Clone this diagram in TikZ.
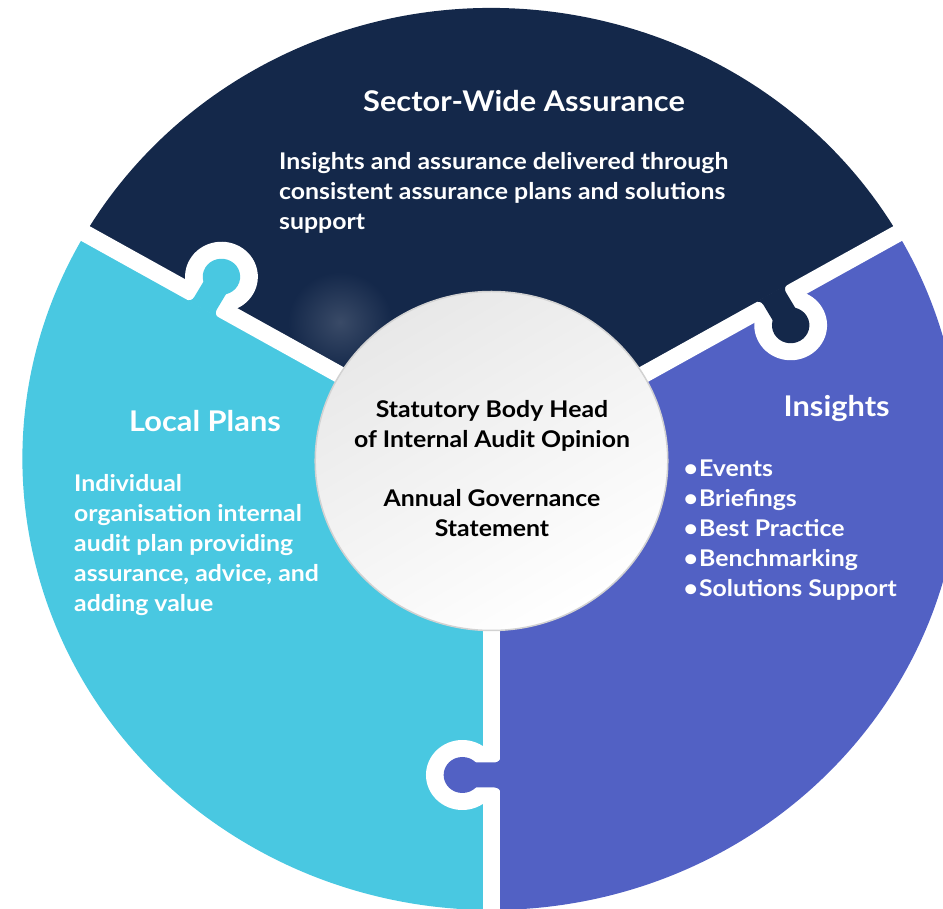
\documentclass[tikz,border=0pt]{standalone}
\usepackage{fontspec}
\setmainfont{Lato}[FakeStretch=1.08]
\usepackage{tikz}
\usetikzlibrary{calc}
\usepackage{xcolor}

\definecolor{navy}{HTML}{14284A}
\definecolor{lightblue}{HTML}{49C8E1}
\definecolor{indigo}{HTML}{5261C4}
\definecolor{hubgrey}{HTML}{E8E8E8}
\definecolor{hubedge}{HTML}{D2D2D2}

\tikzset{
  heading/.style={text=white, inner sep=0pt, font=\bfseries\fontsize{28.5}{34}\selectfont},
  body/.style={text=white, inner sep=0pt, align=left, font=\bfseries\fontsize{23}{30}\selectfont},
  hubtext/.style={text=black, inner sep=0pt, align=center, font=\bfseries\fontsize{23}{30}\selectfont}
}
\newcommand{\bulletitem}{\textbullet\kern1pt}

\begin{document}
\begin{tikzpicture}[x=1pt,y=1pt]
    \useasboundingbox (-491.5,-450) rectangle (451.5,459);

    \begin{scope}[xscale=1.04]
        % Pieces of the ring
        \foreach \from/\col in {30/navy, 150/lightblue, 270/indigo} {
            \fill[\col] (0,0) -- (\from:451) arc[start angle=\from, delta angle=120, radius=451] -- cycle;
        }

        % Glow on the dark piece
        \shade[inner color=navy!84!white, outer color=navy] (-145.7,137) circle[radius=50];

        % Gaps between the pieces
        \foreach \a in {30, 150, 270} {
            \draw[white, line width=17pt] (0,0) -- (\a:480);
            \fill[white, rotate=\a] (316,-28) circle[radius=35];
        }

        % Tabs
        \foreach \a/\col in {30/navy, 150/lightblue, 270/indigo} {
            \begin{scope}[rotate=\a]
                \fill[\col] (316,-28) circle[radius=18];
                \fill[\col] (297.5,9) arc[start angle=90, end angle=0, radius=6] -- (303.5,-28)
                    -- (328.5,-28) -- (328.5,3) arc[start angle=180, end angle=90, radius=6] -- cycle;
            \end{scope}
        }

        % Hub
        \shade[top color=hubgrey, bottom color=white, shading angle=30, draw=hubedge, line width=1.5pt]
            (0,-2) circle[radius=169.5];
    \end{scope}

    % Labels (base anchor = last line)
    \node[heading, anchor=base] (sectorTitle) at (32.5,347) {Sector-Wide Assurance};
    \node[body, anchor=base west] (sectorText) at (-212.5,229)
        {Insights and assurance delivered through\\consistent assurance plans and solutions\\support};

    \node[heading, anchor=base] (localTitle) at (-286.5,27) {Local Plans};
    \node[body, anchor=base west] (localText) at (-417.5,-153)
        {Individual\\organisation internal\\audit plan providing\\assurance, advice, and\\adding value};

    \node[heading, anchor=base] (insightTitle) at (345.2,42) {Insights};
    \node[body, anchor=base west] (insightList) at (192,-138)
        {\bulletitem Events\\\bulletitem Briefings\\\bulletitem Best Practice\\\bulletitem Benchmarking\\\bulletitem Solutions Support};

    \node[hubtext, anchor=base] (hub) at (0.5,-78)
        {Statutory Body Head\\of Internal Audit Opinion\\[29pt]Annual Governance\\Statement};
\end{tikzpicture}
\end{document}
